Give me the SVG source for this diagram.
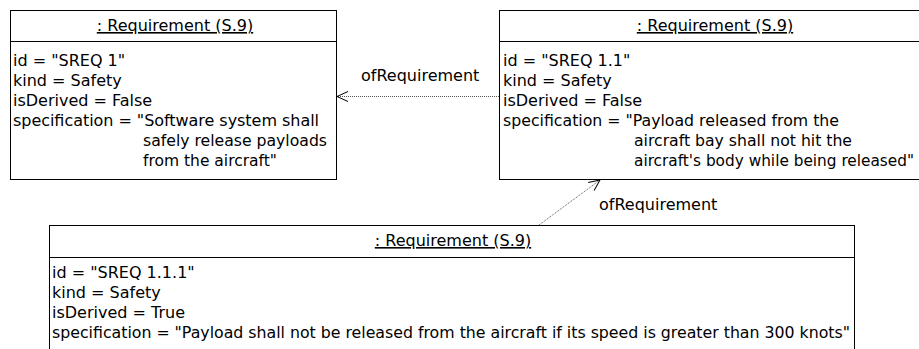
<svg xmlns="http://www.w3.org/2000/svg" width="919" height="349" viewBox="0 0 919 349">
  <style>
    text { font-family: "DejaVu Sans", Verdana, sans-serif; font-size: 16px; fill: #000; }
    .title { text-anchor: middle; text-decoration: underline; }
    .box { fill: #fff; stroke: #000; stroke-width: 1; }
    .sep { stroke: #000; stroke-width: 1; }
    .link { fill: none; stroke: #555; stroke-width: 1; stroke-dasharray: 1 1; }
    .head { fill: none; stroke: #000; stroke-width: 1; }
  </style>
  <defs>
    <marker id="open" markerWidth="14" markerHeight="12" refX="12" refY="6" orient="auto" markerUnits="userSpaceOnUse">
      <path class="head" d="M1,1 L12,6 L1,11"/>
    </marker>
  </defs>

  <rect width="919" height="349" fill="#fff"/>

  <!-- Requirement SREQ 1 -->
  <g id="sreq1">
    <rect class="box" x="10.5" y="10.5" width="326" height="169"/>
    <line class="sep" x1="10.5" y1="41.5" x2="336.5" y2="41.5"/>
    <text class="title" x="175" y="31">: Requirement (S.9)</text>
    <text x="13" y="65.5">id = "SREQ 1"</text>
    <text x="13" y="85.5">kind = Safety</text>
    <text x="13" y="105.5">isDerived = False</text>
    <text x="13" y="125.5" textLength="306" lengthAdjust="spacing">specification = "Software system shall</text>
    <text x="143" y="146" textLength="184" lengthAdjust="spacingAndGlyphs">safely release payloads</text>
    <text x="143" y="166" textLength="134" lengthAdjust="spacingAndGlyphs">from the aircraft"</text>
  </g>

  <!-- Requirement SREQ 1.1 -->
  <g id="sreq1_1">
    <rect class="box" x="499.5" y="10.5" width="432" height="169"/>
    <line class="sep" x1="499.5" y1="41.5" x2="931.5" y2="41.5"/>
    <text class="title" x="715" y="31">: Requirement (S.9)</text>
    <text x="503" y="65.5">id = "SREQ 1.1"</text>
    <text x="503" y="85.5">kind = Safety</text>
    <text x="503" y="105.5">isDerived = False</text>
    <text x="503" y="125.5" textLength="336" lengthAdjust="spacingAndGlyphs">specification = "Payload released from the</text>
    <text x="634" y="146" textLength="218" lengthAdjust="spacingAndGlyphs">aircraft bay shall not hit the</text>
    <text x="634" y="166" textLength="280" lengthAdjust="spacingAndGlyphs">aircraft's body while being released"</text>
  </g>

  <!-- Requirement SREQ 1.1.1 -->
  <g id="sreq1_1_1">
    <rect class="box" x="49.5" y="225.5" width="805" height="140"/>
    <line class="sep" x1="49.5" y1="257.5" x2="854.5" y2="257.5"/>
    <text class="title" x="453" y="246">: Requirement (S.9)</text>
    <text x="52" y="277.5">id = "SREQ 1.1.1"</text>
    <text x="52" y="297.5">kind = Safety</text>
    <text x="52" y="317.5">isDerived = True</text>
    <text x="52" y="338" textLength="798" lengthAdjust="spacingAndGlyphs">specification = "Payload shall not be released from the aircraft if its speed is greater than 300 knots"</text>
  </g>

  <!-- ofRequirement links -->
  <g id="links">
    <line class="link" x1="499" y1="96.5" x2="337" y2="96.5" marker-end="url(#open)"/>
    <text x="361" y="81">ofRequirement</text>
    <line class="link" x1="539" y1="225" x2="600" y2="180" marker-end="url(#open)"/>
    <text x="599" y="210">ofRequirement</text>
  </g>
</svg>
